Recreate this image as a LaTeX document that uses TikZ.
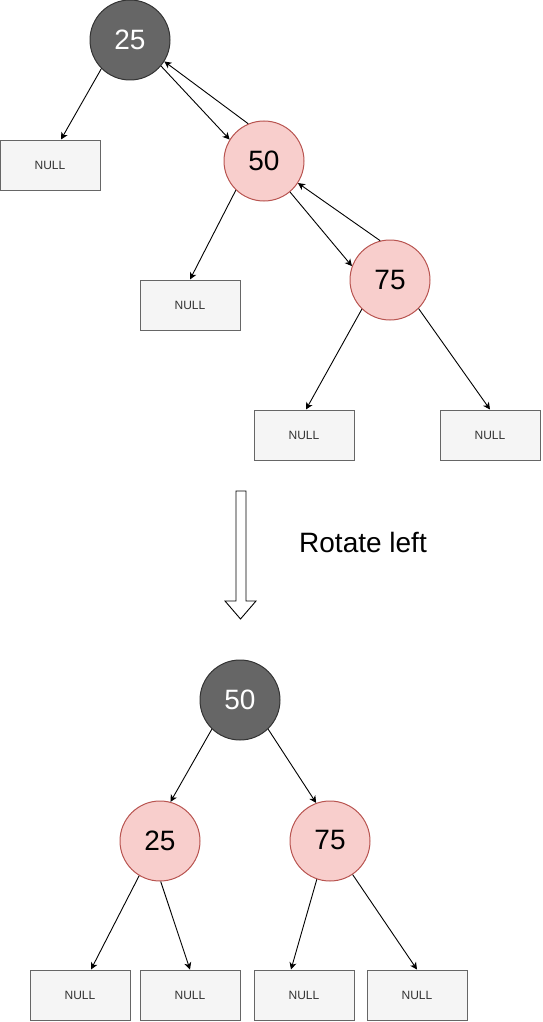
\documentclass[tikz,border=0pt]{standalone}
\usepackage{fontspec}
\setmainfont{Liberation Sans}
\usetikzlibrary{arrows.meta,calc}
\definecolor{darkfill}{HTML}{666666}
\definecolor{darkline}{HTML}{333333}
\definecolor{pinkfill}{HTML}{F8CECC}
\definecolor{pinkline}{HTML}{B85450}
\definecolor{nullfill}{HTML}{F5F5F5}
\definecolor{nullline}{HTML}{666666}
\definecolor{nulltext}{HTML}{333333}
\tikzset{
  darknode/.style={circle, minimum size=80pt, inner sep=0pt, fill=darkfill, draw=darkline, line width=1pt, text=white, font=\fontsize{28}{32}\selectfont},
  pinknode/.style={circle, minimum size=80pt, inner sep=0pt, fill=pinkfill, draw=pinkline, line width=1pt, text=black, font=\fontsize{28}{32}\selectfont},
  nullbox/.style={rectangle, minimum width=100pt, minimum height=50pt, inner sep=0pt, fill=nullfill, draw=nullline, line width=1pt, text=nulltext, font=\fontsize{12}{14}\selectfont},
  edge/.style={draw=black, line width=0.9pt, -{Stealth[length=7pt,width=7pt,inset=2pt]}},
  blockarrow/.style={draw=black, line width=0.9pt, fill=white}
}
\begin{document}
\begin{tikzpicture}[x=1pt,y=-1pt]
\useasboundingbox (0,0) rectangle (542,1022);
% top tree
\node[darknode] (t25) at (130,40) {25};
\node[pinknode] (t50) at (264,161) {\raisebox{-2pt}{50}};
\node[pinknode] (t75) at (390,280) {75};
\node[nullbox] (tn1) at (50,165) {NULL};
\node[nullbox] (tn2) at (190,305) {NULL};
\node[nullbox] (tn3) at (304,435) {NULL};
\node[nullbox] (tn4) at (490,435) {NULL};
\draw[edge] (t25.-135) -- ([xshift=11pt]tn1.north);
\draw[edge] (t25.-40) -- (t50.148);
\draw[edge] (t50.113) -- (t25.-32);
\draw[edge] (t50.-134) -- (tn2.north);
\draw[edge] (t50.-50) -- (t75.160);
\draw[edge] (t75.104) -- (t50.-33);
\draw[edge] (t75.-134) -- ([xshift=2pt]tn3.north);
\draw[edge] (t75.-45) -- (tn4.north);
% rotate arrow
\draw[blockarrow] (236,491) -- (246,491) -- (246,601) -- (256,601) -- (240.5,619) -- (225,601) -- (236,601) -- cycle;
\node[anchor=base, font=\fontsize{28}{32}\selectfont, text=black, inner sep=0pt] (lbl) at (363,552) {Rotate left};
% bottom tree
\node[darknode] (b50) at (240,700) {\raisebox{-3pt}{50}};
\node[pinknode] (b25) at (160,841) {\raisebox{-2pt}{25}};
\node[pinknode] (b75) at (330,841) {\raisebox{2pt}{75}};
\node[nullbox] (bn1) at (80,995) {NULL};
\node[nullbox] (bn2) at (190,995) {NULL};
\node[nullbox] (bn3) at (304,995) {NULL};
\node[nullbox] (bn4) at (417,995) {NULL};
\draw[edge] (b50.-134) -- (b25.75);
\draw[edge] (b50.-46) -- (b75.110);
\draw[edge] (b25.-121) -- ([xshift=11pt]bn1.north);
\draw[edge] (b25.-89) -- (bn2.north);
\draw[edge] (b75.-109) -- ([xshift=-13pt]bn3.north);
\draw[edge] (b75.-56) -- (bn4.north);
\end{tikzpicture}
\end{document}
